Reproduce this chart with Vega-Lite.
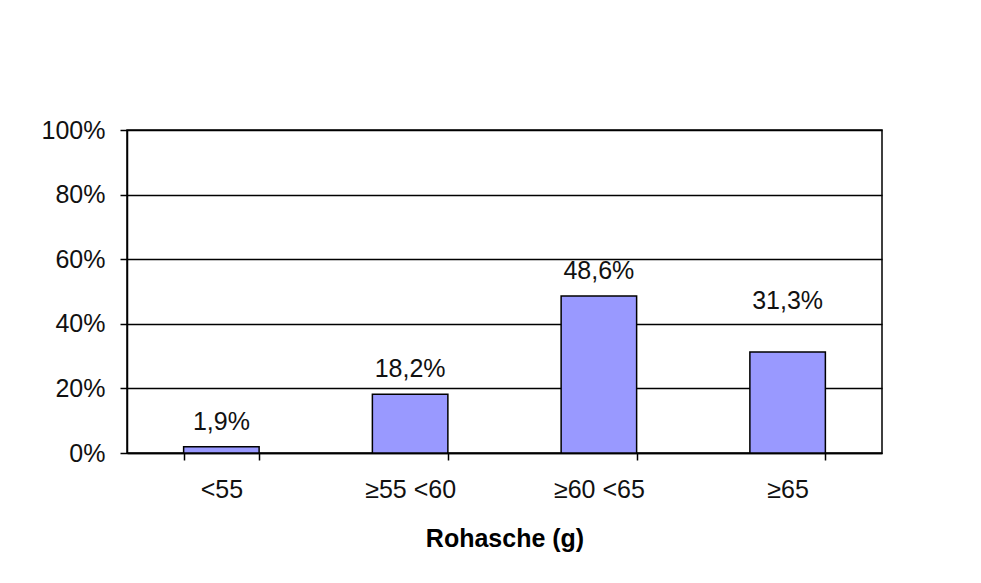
{
  "$schema": "https://vega.github.io/schema/vega-lite/v6.json",
  "width": 755,
  "height": 323,
  "autosize": {"type": "none"},
  "padding": {"left": 127, "top": 130, "right": 99, "bottom": 130},
  "background": "white",
  "config": {
    "font": "Liberation Sans",
    "view": {"stroke": "black", "strokeWidth": 1.5},
    "locale": {"number": {"decimal": ",", "thousands": ".", "grouping": [3], "currency": ["", " €"]}}
  },
  "data": {
    "values": [
      {"cat": "<55", "value": 0.019},
      {"cat": "≥55 <60", "value": 0.182},
      {"cat": "≥60 <65", "value": 0.486},
      {"cat": "≥65", "value": 0.313}
    ]
  },
  "encoding": {
    "x": {
      "field": "cat",
      "type": "nominal",
      "sort": null,
      "scale": {"paddingInner": 0.6, "paddingOuter": 0.3},
      "axis": {
        "title": "Rohasche (g)",
        "titleFont": "Liberation Sans",
        "titleFontSize": 25,
        "titleFontWeight": "bold",
        "titleColor": "black",
        "titlePadding": 24,
        "labelAngle": 0,
        "labelFontSize": 25,
        "labelColor": "#111",
        "labelPadding": 17,
        "tickBand": "extent",
        "tickSize": 7,
        "tickColor": "black",
        "tickWidth": 1.5,
        "domainColor": "black",
        "domainWidth": 1.5
      }
    },
    "y": {
      "field": "value",
      "type": "quantitative",
      "scale": {"domain": [0, 1], "nice": false},
      "axis": {
        "title": null,
        "format": ".0%",
        "values": [0, 0.2, 0.4, 0.6, 0.8, 1],
        "labelFontSize": 25,
        "labelColor": "#111",
        "labelPadding": 15,
        "tickSize": 7,
        "tickColor": "black",
        "tickWidth": 1.5,
        "domainColor": "black",
        "domainWidth": 1.5,
        "grid": true,
        "gridColor": "black",
        "gridWidth": 1.5,
        "gridOpacity": 1
      }
    }
  },
  "layer": [
    {
      "mark": {"type": "bar", "fill": "#9999ff", "stroke": "black", "strokeWidth": 1.5}
    },
    {
      "transform": [{"filter": "datum.cat !== '≥65'"}],
      "mark": {"type": "text", "baseline": "alphabetic", "dy": -17, "fontSize": 25, "color": "#111"},
      "encoding": {
        "text": {"field": "value", "type": "quantitative", "format": ".1%"}
      }
    },
    {
      "transform": [{"filter": "datum.cat === '≥65'"}],
      "mark": {"type": "text", "baseline": "alphabetic", "dy": -43, "fontSize": 25, "color": "#111"},
      "encoding": {
        "text": {"field": "value", "type": "quantitative", "format": ".1%"}
      }
    }
  ]
}
